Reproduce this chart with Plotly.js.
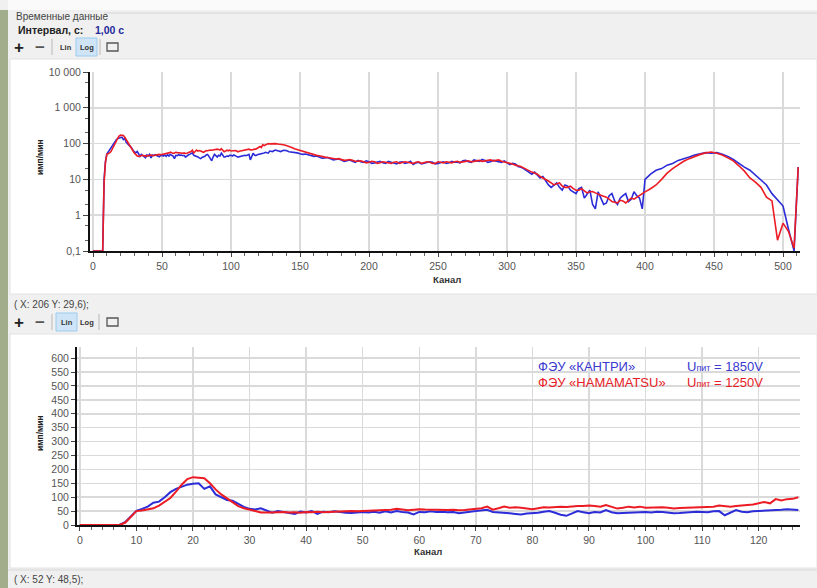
<!DOCTYPE html>
<html><head><meta charset="utf-8">
<script src="https://cdn.plot.ly/plotly-3.0.1.min.js"></script>
<style>html,body{margin:0;padding:0;background:#f0f0f0;overflow:hidden}#c{width:817px;height:588px}</style>
</head><body><div id="c"></div>
<script>
// ---- DATA ----
// Channels 0..127 (shown in both panels, full resolution)
const chLow = Array.from({length:128}, (_, i) => i);
const blueLow = [0.1,0.1,0.1,0.1,0.1,0.1,0.1,0.1,10,32,
 51,58,66,80,84,100,118,130,138,145,
 148,150,130,139,110,100,90,87,75,65,
 58,56,60,52,44,50,47,42,40,48,
 45,50,40,48,46,49,46,44,43,46,
 47,45,48,44,49,45,50,47,45,38,
 47,46,49,47,48,46,47,42,46,48,
 50,52,55,47,46,44,42,40,38,41,
 42,44,48,50,44,37,33,42,50,46,
 42,47,45,54,46,42,43,45,44,47,
 47,45,48,47,44,42,43,45,47,48,
 47,46,49,50,35,45,54,48,46,49,
 50,52,51,53,55,57,55,54];
const redLow = [0.1,0.1,0.1,0.1,0.1,0.1,0.1,0.1,8,30,
 50,52,55,60,70,82,97,120,145,165,
 172,170,168,150,128,110,95,80,68,60,
 54,50,45,44,45,46,47,45,46,44,
 47,46,48,46,47,48,49,48,50,49,
 50,51,52,51,53,55,58,56,53,55,
 57,56,55,54,55,54,55,53,54,56,
 57,60,66,55,60,66,62,64,62,60,
 57,60,64,63,65,66,65,67,68,68,
 70,68,66,72,66,59,62,66,63,66,
 62,63,65,64,62,59,61,62,64,65,
 66,67,66,70,67,66,68,70,70,74,
 78,83,78,93,88,93,94,100];
// Channels 128..511 (top panel only)
const chHigh = [
 128,130,132,134,136,138,140,142,144,146,148,150,152,154,156,158,160,162,164,166,
 168,170,172,174,176,178,180,182,184,186,188,190,192,194,196,198,200,202,204,206,
 208,210,212,214,216,218,220,222,224,226,228,230,232,234,236,238,240,242,244,246,
 248,250,252,254,256,258,260,262,264,266,268,270,272,274,276,278,280,282,284,286,
 288,290,292,294,296,298,300,302,304,306,308,310,312,314,316,318,320,322,324,326,
 328,330,332,334,336,338,340,342,344,346,348,350,352,354,356,358,360,362,364,366,
 368,370,372,374,376,378,380,382,384,386,388,390,392,394,396,398,400,
 404,408,412,416,420,424,428,432,436,440,444,448,452,456,460,464,468,472,476,480,
 484,488,492,496,500,504,508,511];
const blueHigh = [
 62,60,66,63,60,65,64,59,58,57,55,52,50,51,48,45,44,45,42,39,
 40,41,38,35,36,37,35,32,33,35,32,30,34,31,30,33,31,28,29,31,
 32,29,28,32,30,29,27,30,31,28,29,32,26,29,30,27,28,29,31,30,
 27,28,30,31,28,29,32,30,30,29,33,34,31,30,35,33,32,36,34,30,
 31,34,33,32,30,33,29,26,28,27,23,22,20,18,16,14,16,13,11,12,
 9,7,6,7,8,6,5,7,6.5,5,4.5,4,5.5,6,3,4,5,2,1.5,4.5,
 3,2,2.2,3.5,4,2.5,2,3,3.5,4,2.4,2.8,4.5,3.5,3,1.5,10,
 14,18,20,25,28,34,37,42,48,52,56,54,56,50,44,36,28,22,18,13,
 10,7,4,2.6,1.8,0.4,0.1,22];
const redHigh = [
 98,101,100,97,96,93,88,84,78,72,68,66,62,58,55,53,50,47,46,45,
 42,41,40,38,37,38,36,34,35,36,34,32,32,33,31,29,30,32,31,28,
 29,31,30,29,28,30,31,28,29,31,30,29,28,30,31,28,29,31,30,28,
 28,31,30,29,31,30,29,31,32,30,31,32,33,31,32,34,34,32,33,34,
 35,33,34,35,32,31,30,29,27,25,24,23,21,19,18,16,15,14,12,11,
 10,9,8,7,7.5,8,6.5,6,6,6.5,5.5,5,5,5.5,4.8,4.2,4.5,4.6,4.2,3.8,
 3.6,3.4,3.2,2.8,2.4,2.3,2.2,2.6,2.5,2.2,2.6,3,2.8,3.2,3.5,4,4.5,
 5.5,7,10,15,20,26,32,38,44,50,55,58,54,48,40,33,24,17,11,8.4,
 6,3.2,2.5,0.2,0.6,0.35,0.12,22];

const chAll = chLow.concat(chHigh);
const blueAll = blueLow.concat(blueHigh);
const redAll = redLow.concat(redHigh);

const logTickVals = [0.1,1,10,100,1000,10000];
const logTickText = ['0,1','1','10','100','1 000','10 000'];
const topXTicks = [0,50,100,150,200,250,300,350,400,450,500];
const botXTicks = [0,10,20,30,40,50,60,70,80,90,100,110,120];
const botYTicks = [0,50,100,150,200,250,300,350,400,450,500,550,600];

// ---- LAYOUT HELPERS ----
const W = 817, H = 588;
const X = p => p / W;
const Y = p => 1 - p / H;
const BLUE = '#2c2cd8', RED = '#ec1c24';
const FONT = 'Liberation Sans, Arial, sans-serif';
const tickFont = {family: FONT, size: 10.5, color: '#555'};

const traces = [
  {x: chAll, y: blueAll, xaxis: 'x', yaxis: 'y', mode: 'lines', line: {color: BLUE, width: 1.6}, hoverinfo: 'skip'},
  {x: chAll, y: redAll, xaxis: 'x', yaxis: 'y', mode: 'lines', line: {color: RED, width: 1.6}, hoverinfo: 'skip'},
  {x: chLow, y: blueLow, xaxis: 'x2', yaxis: 'y2', mode: 'lines', line: {color: BLUE, width: 2}, hoverinfo: 'skip'},
  {x: chLow, y: redLow, xaxis: 'x2', yaxis: 'y2', mode: 'lines', line: {color: RED, width: 2}, hoverinfo: 'skip'}
];

const axBase = {
  showgrid: true, gridcolor: '#dadada', gridwidth: 1.5, zeroline: false,
  showline: true, linecolor: '#111', linewidth: 2,
  ticks: 'outside', ticklen: 4, tickcolor: '#444', tickfont: tickFont, fixedrange: true
};

const shapes = [
  {type:'rect', xref:'paper', yref:'paper', x0:X(8), x1:X(817), y0:Y(10), y1:Y(0), fillcolor:'#fafafa', line:{width:0}, layer:'below'},
  {type:'rect', xref:'paper', yref:'paper', x0:0, x1:X(8), y0:Y(588), y1:Y(10), fillcolor:'#a2ad8c', line:{width:0}, layer:'below'},
  {type:'line', xref:'paper', yref:'paper', x0:X(104), x1:X(817), y0:Y(13), y1:Y(13), line:{color:'#d6d6d6', width:1}, layer:'below'},
  {type:'rect', xref:'paper', yref:'paper', x0:X(10), x1:X(817), y0:Y(294), y1:Y(59), fillcolor:'#ffffff', line:{color:'#e2e2e2', width:1}, layer:'below'},
  {type:'rect', xref:'paper', yref:'paper', x0:X(10), x1:X(817), y0:Y(568), y1:Y(334), fillcolor:'#ffffff', line:{color:'#e2e2e2', width:1}, layer:'below'},
  {type:'line', xref:'paper', yref:'paper', x0:X(8), x1:X(817), y0:Y(570), y1:Y(570), line:{color:'#d8d8d8', width:1}, layer:'below'},
  // toolbar 1
  {type:'line', xref:'paper', yref:'paper', x0:X(52), x1:X(52), y0:Y(55), y1:Y(39), line:{color:'#b8b8b8', width:1}},
  {type:'rect', xref:'paper', yref:'paper', x0:X(76), x1:X(97), y0:Y(56), y1:Y(38), fillcolor:'#cfe5f7', line:{color:'#9ccbee', width:1}, layer:'below'},
  {type:'line', xref:'paper', yref:'paper', x0:X(100), x1:X(100), y0:Y(55), y1:Y(39), line:{color:'#b8b8b8', width:1}},
  {type:'rect', xref:'paper', yref:'paper', x0:X(107), x1:X(118), y0:Y(51), y1:Y(43), fillcolor:'rgba(0,0,0,0)', line:{color:'#555', width:1.3}},
  // toolbar 2
  {type:'line', xref:'paper', yref:'paper', x0:X(52), x1:X(52), y0:Y(330), y1:Y(314), line:{color:'#b8b8b8', width:1}},
  {type:'rect', xref:'paper', yref:'paper', x0:X(56), x1:X(77), y0:Y(331), y1:Y(313), fillcolor:'#cfe5f7', line:{color:'#9ccbee', width:1}, layer:'below'},
  {type:'line', xref:'paper', yref:'paper', x0:X(99), x1:X(99), y0:Y(330), y1:Y(314), line:{color:'#b8b8b8', width:1}},
  {type:'rect', xref:'paper', yref:'paper', x0:X(107), x1:X(118), y0:Y(326), y1:Y(318), fillcolor:'rgba(0,0,0,0)', line:{color:'#555', width:1.3}}
];

function ann(x, y, text, opts) {
  return Object.assign({xref:'paper', yref:'paper', x:X(x), y:Y(y), text:text, showarrow:false,
    xanchor:'left', yanchor:'middle', font:{family:FONT, size:10, color:'#333'}}, opts || {});
}
const btnFont = {family: FONT, size: 7.5, color: '#333'};
const annotations = [
  ann(14, 17, 'Временные данные', {font:{family:FONT, size:10, color:'#444'}}),
  ann(16, 30, '<b>Интервал, с:</b>', {font:{family:FONT, size:10.5, color:'#222'}}),
  ann(93, 30, '<b>1,00 с</b>', {font:{family:FONT, size:10.5, color:'#1f2a9c'}}),
  ann(19, 47, '<b>+</b>', {xanchor:'center', font:{family:FONT, size:17, color:'#222'}}),
  ann(40, 47, '<b>−</b>', {xanchor:'center', font:{family:FONT, size:17, color:'#555'}}),
  ann(66, 47, '<b>Lin</b>', {xanchor:'center', font:btnFont}),
  ann(86.5, 47, '<b>Log</b>', {xanchor:'center', font:btnFont}),
  ann(12, 304, '( X: 206 Y: 29,6);', {font:{family:FONT, size:10, color:'#444'}}),
  ann(19, 322, '<b>+</b>', {xanchor:'center', font:{family:FONT, size:17, color:'#222'}}),
  ann(40, 322, '<b>−</b>', {xanchor:'center', font:{family:FONT, size:17, color:'#555'}}),
  ann(66.5, 322, '<b>Lin</b>', {xanchor:'center', font:btnFont}),
  ann(86.5, 322, '<b>Log</b>', {xanchor:'center', font:btnFont}),
  ann(12, 579, '( X: 52 Y: 48,5);', {font:{family:FONT, size:10, color:'#444'}}),
  // axis titles
  ann(447, 279, '<b>Канал</b>', {xanchor:'center', font:{family:FONT, size:9.5, color:'#333'}}),
  ann(428, 551, '<b>Канал</b>', {xanchor:'center', font:{family:FONT, size:9.5, color:'#333'}}),
  ann(40, 157, '<b>имп/мин</b>', {xanchor:'center', textangle:-90, font:{family:FONT, size:8.5, color:'#222'}}),
  ann(40, 433, '<b>имп/мин</b>', {xanchor:'center', textangle:-90, font:{family:FONT, size:8.5, color:'#222'}}),
  // legend text
  ann(536, 366, 'ФЭУ «КАНТРИ»', {font:{family:FONT, size:13, color:'#3a3acf'}}),
  ann(536, 382, 'ФЭУ «HAMAMATSU»', {font:{family:FONT, size:13, color:'#e81c28'}}),
  ann(685, 366, 'U<span style="font-size:9px">пит</span> = 1850V', {font:{family:FONT, size:13, color:'#3a3acf'}}),
  ann(685, 382, 'U<span style="font-size:9px">пит</span> = 1250V', {font:{family:FONT, size:13, color:'#e81c28'}})
];

const layout = {
  width: W, height: H,
  margin: {l:0, r:0, t:0, b:0},
  paper_bgcolor: '#f0f0f0', plot_bgcolor: '#ffffff',
  showlegend: false,
  font: {family: FONT},
  xaxis: Object.assign({}, axBase, {domain:[X(90), X(800)], range:[-2.2, 512.3], anchor:'y',
    tickvals: topXTicks, minor:{dtick:10, ticks:'outside', ticklen:3, tickcolor:'#666', showgrid:false}}),
  yaxis: Object.assign({}, axBase, {domain:[Y(251), Y(72)], type:'log', range:[-1, 4], anchor:'x',
    tickvals: logTickVals, ticktext: logTickText, ticklen:5,
    minor:{ticks:'outside', ticklen:3, tickcolor:'#666', showgrid:false}}),
  xaxis2: Object.assign({}, axBase, {domain:[X(77), X(800)], range:[-0.5, 127.3], anchor:'y2',
    tickvals: botXTicks, minor:{dtick:2, ticks:'outside', ticklen:3, tickcolor:'#666', showgrid:false}}),
  yaxis2: Object.assign({}, axBase, {domain:[Y(525), Y(347)], range:[0, 640], anchor:'x2',
    tickvals: botYTicks}),
  shapes: shapes,
  annotations: annotations
};

Plotly.newPlot('c', traces, layout, {displayModeBar:false, staticPlot:true});
</script></body></html>
